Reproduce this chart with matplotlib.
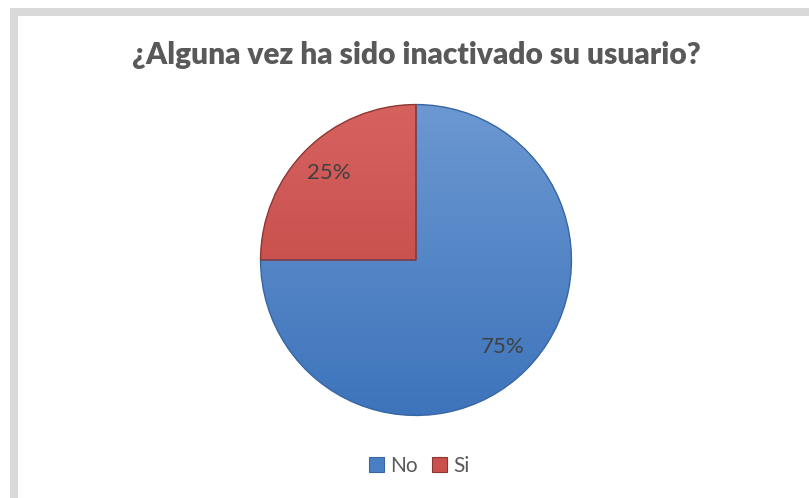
import matplotlib.pyplot as plt
import numpy as np
from matplotlib.patches import Rectangle, Patch

# data
labels = ["No", "Si"]
values = [75, 25]
colors = ["#4a7fc4", "#c9504d"]
tops = ["#6c98d2", "#d6625f"]
bottoms = ["#3d74bb", "#bd423f"]
edges = ["#3866a3", "#8e3633"]

W, H = 809, 498
fig = plt.figure(figsize=(W / 100, H / 100), dpi=100)
fig.patch.set_facecolor("white")

# grey chart frame (cropped at right/bottom)
fig.patches.append(Rectangle((14 / W, -0.1), 1.2, 1 - 12 / H + 0.1,
                             transform=fig.transFigure, fill=False,
                             edgecolor="#d9d9d9", linewidth=8 * 0.72, zorder=0))

fig.text(416 / W, 1 - 55 / H, "¿Alguna vez ha sido inactivado su usuario?",
         ha="center", va="center", fontsize=21.5, fontweight="heavy",
         color="#595959", family="Lato")

cx, cy, r = 416, 260, 157
ax = fig.add_axes([(cx - r) / W, (H - cy - r) / H, 2 * r / W, 2 * r / H])
wedges, texts, autotexts = ax.pie(values, colors=colors, startangle=90,
                                  counterclock=False, autopct="%1.0f%%",
                                  pctdistance=0.79, radius=1,
                                  wedgeprops=dict(linewidth=1.0))
ax.set_xlim(-1.01, 1.01)
ax.set_ylim(-1.01, 1.01)

# vertical gradient inside each wedge
for w, t, b, e in zip(wedges, tops, bottoms, edges):
    grad = np.linspace(0, 1, 256).reshape(-1, 1)
    c1 = np.array(plt.matplotlib.colors.to_rgb(t))
    c2 = np.array(plt.matplotlib.colors.to_rgb(b))
    img = c1 * (1 - grad[..., None]) + c2 * grad[..., None]
    im = ax.imshow(img, extent=[-1, 1, -1, 1], origin="upper",
                   aspect="auto", zorder=w.get_zorder() - 0.1)
    im.set_clip_path(w)
    w.set_facecolor("none")
    w.set_edgecolor(e)

for t in autotexts:
    t.set_fontsize(16)
    t.set_color("#404040")
    t.set_family("Lato")
ax.set_aspect("auto")
ax.axis("off")

handles = [Patch(facecolor=c, edgecolor=e, linewidth=0.8) for c, e in zip(colors, edges)]
leg = fig.legend(handles, labels, loc="center", bbox_to_anchor=(419 / W, 1 - 466 / H),
                 ncol=2, frameon=False, handlelength=0.7,
                 handleheight=0.7, handletextpad=0.3, columnspacing=0.7,
                 prop={"family": "Lato", "size": 15})
for t in leg.get_texts():
    t.set_color("#595959")

fig.savefig("out.png", dpi=100, facecolor="white")
